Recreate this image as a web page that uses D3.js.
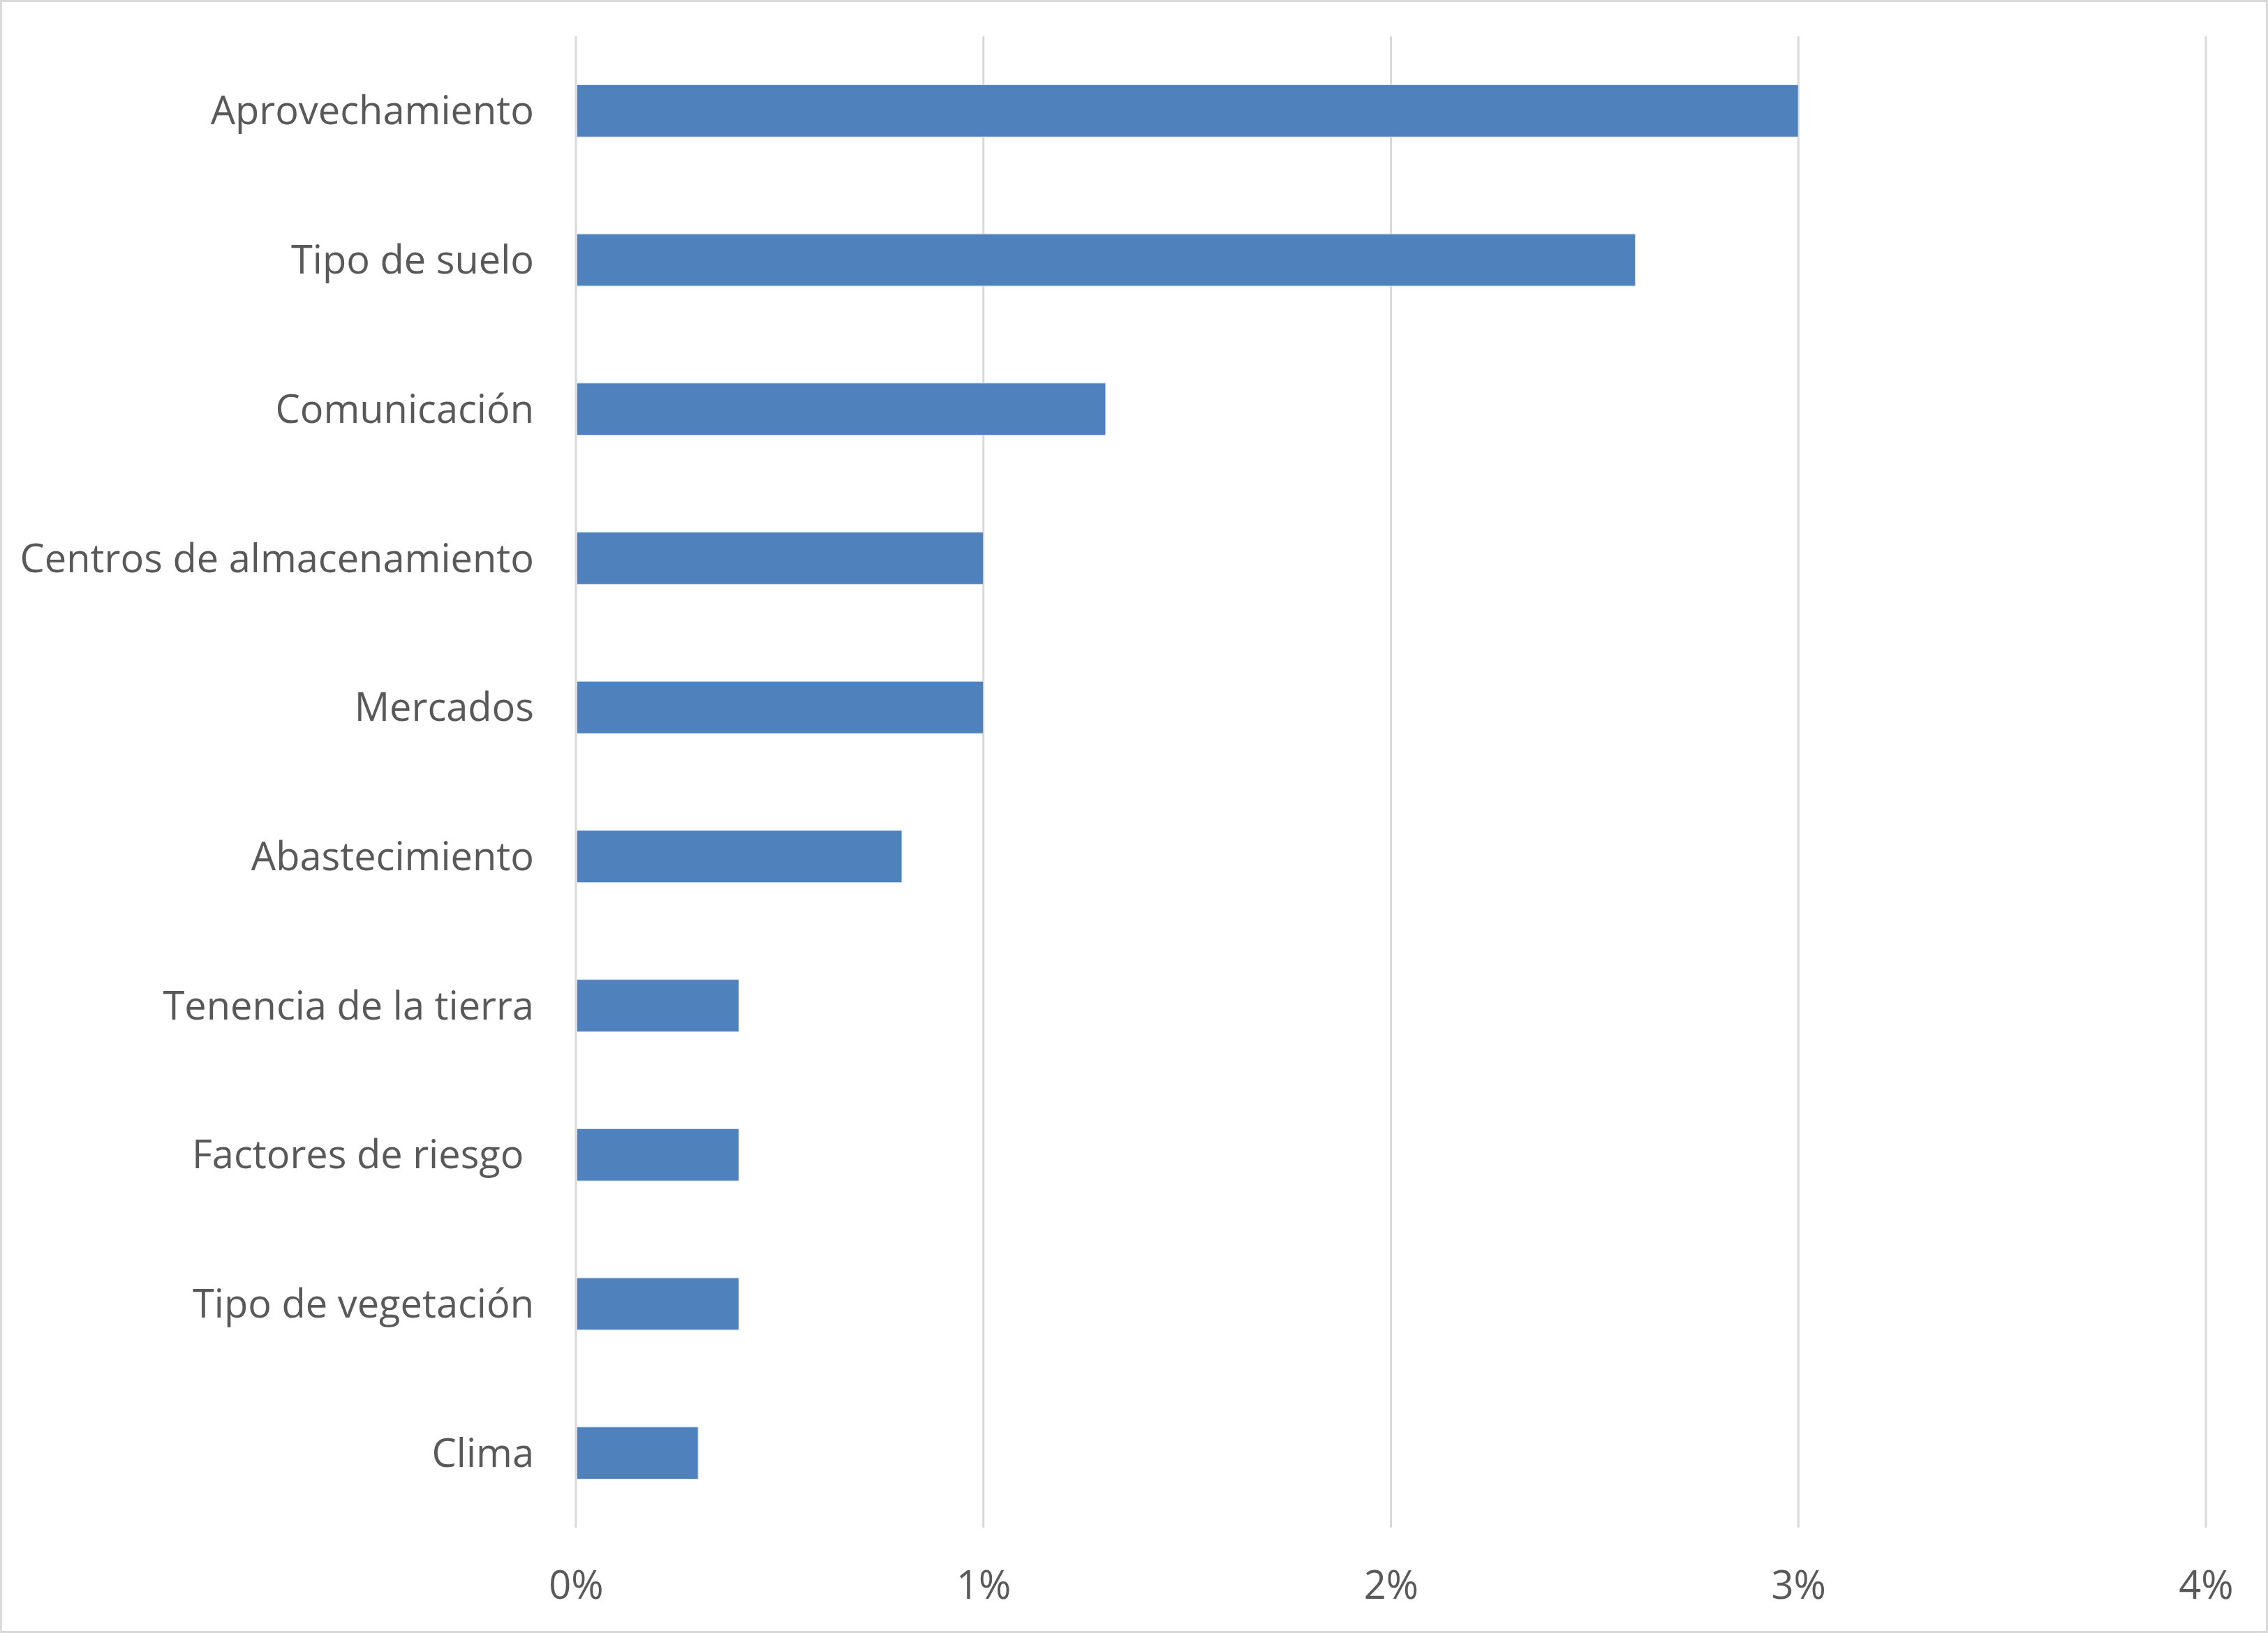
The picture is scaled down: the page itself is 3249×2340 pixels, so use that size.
<!DOCTYPE html>
<html><head><meta charset="utf-8">
<script src="https://cdn.jsdelivr.net/npm/d3@7"></script>
<style>html,body{margin:0;padding:0;background:#fff;} text{white-space:pre;}</style>
</head><body>
<script>
const categories = ["Aprovechamiento","Tipo de suelo","Comunicación","Centros de almacenamiento","Mercados","Abastecimiento","Tenencia de la tierra","Factores de riesgo ","Tipo de vegetación","Clima"];
const values = [0.030,0.026,0.013,0.010,0.010,0.008,0.004,0.004,0.004,0.003];
const xTicks = [0,0.01,0.02,0.03,0.04];

const W=3249,H=2340;
const m={left:825,right:W-3160,top:52,bottom:H-2189};
const svg=d3.select("body").append("svg").attr("width",W).attr("height",H);
svg.append("rect").attr("x",1.5).attr("y",1.5).attr("width",W-3).attr("height",H-3).attr("fill","#fff").attr("stroke","#d9d9d9").attr("stroke-width",3);

const x=d3.scaleLinear().domain([0,0.04]).range([m.left,W-m.right]);
const y=d3.scaleBand().domain(categories).range([m.top,H-m.bottom]).paddingInner(0.65).paddingOuter(0.325);

const font="'Open Sans', sans-serif";
svg.append("g").selectAll("line").data(xTicks).join("line")
  .attr("x1",d=>x(d)).attr("x2",d=>x(d)).attr("y1",m.top).attr("y2",H-m.bottom)
  .attr("stroke","#d9d9d9").attr("stroke-width",3);

svg.append("g").selectAll("rect").data(values).join("rect")
  .attr("x",x(0)+1.5).attr("y",(d,i)=>y(categories[i]))
  .attr("width",d=>x(d)-x(0)-1.5).attr("height",y.bandwidth())
  .attr("fill","#4f81bd").attr("stroke","#dce6f2").attr("stroke-width",1);

const xAxis=d3.axisBottom(x).tickValues(xTicks).tickFormat(d3.format(".0%")).tickSize(0).tickPadding(0);
const gx=svg.append("g").attr("transform",`translate(0,2271)`).call(xAxis);
gx.select(".domain").remove();
gx.selectAll("text").attr("font-family",font).attr("font-size",56).attr("fill","#595959").attr("dy","0.35em");

const yAxis=d3.axisLeft(y).tickSize(0).tickPadding(0);
const gy=svg.append("g").attr("transform",`translate(765,0)`).call(yAxis);
gy.select(".domain").remove();
gy.selectAll("text").attr("font-family",font).attr("font-size",56).attr("fill","#595959").attr("dy","0.35em").attr("x",0);
</script>
</body></html>
